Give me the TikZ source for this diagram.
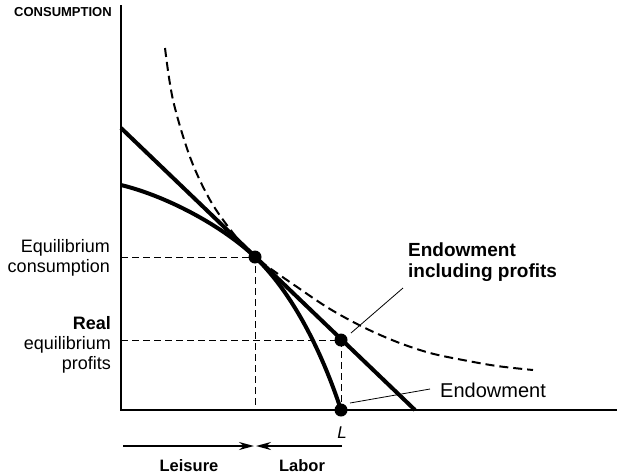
\documentclass[tikz,border=0pt]{standalone}
\usepackage{fontspec}
\setmainfont{Liberation Sans}
\usetikzlibrary{arrows.meta}
\begin{document}
\begin{tikzpicture}[x=1pt,y=-1pt,
  axis/.style={line width=1.3pt},
  thick curve/.style={line width=4pt},
  guide/.style={line width=0.9pt,dash pattern=on 7pt off 4pt},
  icurve/.style={line width=2pt,dash pattern=on 9pt off 5pt},
  dot/.style={circle,fill=black,inner sep=0pt,minimum size=13pt},
  leader/.style={line width=0.8pt},
  lbl/.style={inner sep=0pt,font=\fontsize{18}{20}\selectfont},
  blbl/.style={inner sep=0pt,font=\fontsize{19}{21}\selectfont\bfseries},
  arr/.style={line width=1.8pt,-{Stealth[length=15pt,width=8pt]}}]
\useasboundingbox (0,0) rectangle (617,475);
% axes
\coordinate (O) at (121,410);
\coordinate (Ytop) at (121,5);
\coordinate (Xend) at (617,410);
\draw[axis] (Ytop) -- (O) -- (Xend);
% key points
\coordinate (B0) at (121,128);
\coordinate (B1) at (415,410);
\coordinate (P0) at (121,185);
\coordinate (Ec) at (255,257);
\coordinate (Yc) at (121,257);
\coordinate (Xc) at (255,410);
\coordinate (Yp) at (121,340);
% guides
\draw[guide] (Yc) -- (Ec) -- (Xc);
\draw[guide] (Yp) -- (341,340) -- (341,410);
% indifference curve
\draw[icurve] plot[smooth,tension=0.55] coordinates {(165,48) (173,100) (190,157) (210,200) (233,233) (255,257) (300,289) (330,309) (363,327) (397,342) (430,353) (463,360) (497,366) (533,370)};
% budget line
\draw[thick curve] (B0) -- (B1);
% production curve
\draw[thick curve] (P0) .. controls (170,197) and (225,228.2) .. (Ec) .. controls (300,300.2) and (328,370) .. (341,410);
% dots
\node[dot] (eq) at (Ec) {};
\node[dot] (endp) at (341,340) {};
\node[dot] (endw) at (341,410) {};
% labels
\node[inner sep=0pt,anchor=north west,font=\fontsize{13}{15}\selectfont\bfseries] (cons) at (14,7) {CONSUMPTION};
\node[lbl,anchor=north east,align=right] (eqc) at (110,239) {Equilibrium\\consumption};
\node[lbl,anchor=north east,align=right] (rep) at (111,316) {\textbf{Real}\\equilibrium\\profits};
\node[blbl,anchor=north west,align=left] (eip) at (408,243) {Endowment\\including profits};
\node[inner sep=0pt,anchor=north west,font=\fontsize{20}{22}\selectfont] (endo) at (440,383) {Endowment};
\coordinate (l1a) at (351,333);
\coordinate (l1b) at (403,288);
\coordinate (l2a) at (350,403);
\coordinate (l2b) at (430,389);
\draw[leader] (l1a) -- (l1b);
\draw[leader] (l2a) -- (l2b);
\node[inner sep=0pt,anchor=north,font=\fontsize{17}{19}\selectfont\itshape] (L) at (342,427) {L};
% bottom arrows
\coordinate (a1) at (123,446);
\coordinate (a2) at (342,446);
\coordinate (mid1) at (254,446);
\coordinate (mid2) at (256,446);
\draw[arr] (a1) -- (mid1);
\draw[arr] (a2) -- (mid2);
\node[inner sep=0pt,anchor=north,font=\fontsize{16.5}{18}\selectfont\bfseries] (leis) at (189,459) {Leisure};
\node[inner sep=0pt,anchor=north,font=\fontsize{16.5}{18}\selectfont\bfseries] (lab) at (302,459) {Labor};
\end{tikzpicture}
\end{document}
